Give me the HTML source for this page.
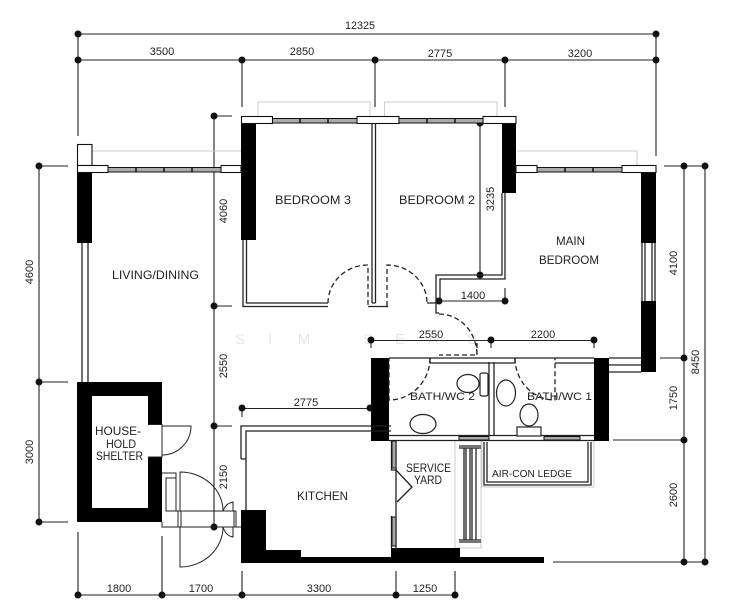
<!DOCTYPE html>
<html><head><meta charset="utf-8"><style>
html,body{margin:0;padding:0;background:#fff}
svg{display:block}
text{font-family:"Liberation Sans",sans-serif;fill:#222}
.d{font-size:11px;text-anchor:middle}
.r{font-size:12px}
.w{fill:#e6e6e6;font-size:15px;text-anchor:middle}
</style></head><body>
<svg width="737" height="600" viewBox="0 0 737 600" xmlns="http://www.w3.org/2000/svg">
<rect width="737" height="600" fill="#fff"/>
<!-- watermark -->
<text class="w" x="240" y="344">S</text><text class="w" x="270" y="344">I</text><text class="w" x="304" y="344">M</text><text class="w" x="368" y="344">S</text><text class="w" x="400" y="344">E</text><text class="w" x="433" y="344">A</text><text class="w" x="472" y="344">S</text>
<!-- dimension lines -->
<g stroke="#222" stroke-width="1.1" fill="none">
<path d="M78 34H656M78 60H656M78 34V136M242 60V107M375 60V107M505 60V107M656 34V156"/>
<path d="M39 166V522M39 166H68M39 382H68M39 522H68"/>
<path d="M214 116V527M214 116H232M214 306H232M214 426H232"/>
<path d="M684 166V562M705 166V562M664 166H705M660 358H684M613 440H684M553 562H705"/>
<path d="M480 123V275M439 301H505M505 288V301"/>
<path d="M371 340.500H594M491 340V348M594 340V348M371 340V348"/>
<path d="M242 408.500H370M242 408V417"/>
<path d="M78 595H455M78 532V595M162 536V595M242 571V595M396 571V595M455 571V595"/>
</g>
<g fill="#111">
<circle cx="78" cy="34" r="3.500"/><circle cx="656" cy="34" r="3.500"/>
<circle cx="78" cy="60" r="3.500"/><circle cx="242" cy="60" r="3.500"/><circle cx="375" cy="60" r="3.500"/><circle cx="505" cy="60" r="3.500"/><circle cx="656" cy="60" r="3.500"/>
<circle cx="39" cy="166" r="3.500"/><circle cx="39" cy="382" r="3.500"/><circle cx="39" cy="522" r="3.500"/>
<circle cx="214" cy="116" r="3.500"/><circle cx="214" cy="306" r="3.500"/><circle cx="214" cy="426" r="3.500"/><circle cx="214" cy="527" r="3.500"/>
<circle cx="684" cy="166" r="3.500"/><circle cx="705" cy="166" r="3.500"/><circle cx="684" cy="358" r="3.500"/><circle cx="684" cy="440" r="3.500"/><circle cx="684" cy="562" r="3.500"/><circle cx="705" cy="562" r="3.500"/>
<circle cx="480" cy="123" r="3.500"/><circle cx="480" cy="275" r="3.500"/><circle cx="439" cy="301" r="3.500"/><circle cx="505" cy="301" r="3.500"/>
<circle cx="371" cy="340" r="3.500"/><circle cx="491" cy="340" r="3.500"/><circle cx="594" cy="340" r="3.500"/>
<circle cx="242" cy="408" r="3.500"/><circle cx="370" cy="408" r="3.500"/>
<circle cx="78" cy="595" r="3.500"/><circle cx="162" cy="595" r="3.500"/><circle cx="242" cy="595" r="3.500"/><circle cx="396" cy="595" r="3.500"/><circle cx="455" cy="595" r="3.500"/>
</g>
<!-- gray outlines -->
<g stroke="#ccc" stroke-width="1" fill="none">
<path d="M258 116V102H370V116M384.500 116V102H497V116"/>
<path d="M92 151H241M517 151H637V165"/>
<path d="M455 440V548H481V440M482 441V487H594V441"/>
</g>
<!-- black walls -->
<g fill="#000">
<rect x="77" y="172" width="15" height="71"/>
<rect x="241" y="123" width="15" height="117"/>
<rect x="502" y="123" width="14" height="70"/>
<rect x="641" y="172" width="15" height="71"/>
<rect x="641" y="301" width="15" height="71"/>
<rect x="371" y="358" width="18" height="83"/>
<rect x="594" y="358" width="15" height="83"/>
<path fill-rule="evenodd" d="M77 382H162V522H77ZM92 396V508H148V396Z"/>
<path d="M241 510H266V550H301V557H544V563H241Z"/>
<path d="M391 548H460V558H391Z"/>
</g>
<!-- shelter door opening -->
<rect x="148" y="424" width="14" height="33" fill="#fff"/>
<g stroke="#222" stroke-width="1" fill="none">
<path d="M148 424.500H162V457H148M162 424V457"/>
<path d="M162 426H191A29 29 0 0 1 162 455"/>
<path d="M162 473H176V511H166V478H176"/>
<path d="M166 511H236M162 522V527H241"/>
<path d="M180 511V472A43 39 0 0 1 223 511"/>
<path d="M180 527V567A43 40 0 0 0 223 527"/>
<path d="M223 511Q226 503 233 502V511M223 527Q226 536 233 537V527"/>
<path d="M178 511V527M181 511V527M234 511V527M236 511V527"/>
</g>
<!-- windows top -->
<g stroke="#111" stroke-width="1.1" fill="#fff">
<rect x="77.500" y="144.500" width="14.500" height="21"/>
<rect x="77.500" y="165.500" width="30.500" height="7"/>
<rect x="221" y="165.500" width="20" height="7"/>
<rect x="241.500" y="116.500" width="31" height="7"/>
<rect x="357" y="116.500" width="42" height="7"/>
<rect x="483" y="116.500" width="33" height="7"/>
<rect x="516" y="165.500" width="21" height="7"/>
<rect x="622" y="165.500" width="34" height="7"/>
</g>
<g stroke="#111" fill="#aaa" stroke-width="1">
<rect x="108" y="167.500" width="113" height="4.500"/>
<rect x="272.500" y="118.500" width="84.500" height="4.500"/>
<rect x="399" y="118.500" width="84" height="4.500"/>
<rect x="537" y="167.500" width="85" height="4.500"/>
</g>
<path d="M136 167V172M164 167V172M192 167V172M300 118V123M328 118V123M427 118V123M455 118V123M565 167V172M593 167V172" stroke="#111" stroke-width="1.500"/>
<!-- thin walls -->
<g stroke="#222" stroke-width="1.300" fill="none">
<path d="M82 243V382M88 243V382"/>
<path d="M243 240V306.500H328M246.500 240V303H328"/>
<path d="M372 123V303M375.500 123V303M368 306.500H388M372 303H375.500"/>
<path d="M502 193V275H436V303H427M505 193V279H440V303"/>
<path d="M436 303V313H439"/>
<path d="M642 243V301M645 243V301M652 243V301M655 243V301"/>
<path d="M609 358H641M609 365H641M609 372H641"/>
<path d="M389 358H594"/>
<path d="M430 358V363H515V358"/>
<path d="M555 363H594"/>
<path d="M489 362V436M494 362V436"/>
<path d="M389 435.500H594M389 440.500H594"/>
<path d="M391.500 441V470H396M396 441V550M391.500 516V548"/>
<path d="M396 470L412 487L397 502"/>
<path d="M241 459V426H391M246 510V431H391M241 459H246"/>
<path d="M484 442V485H591V442M487 442V482H588V442"/>
<path d="M459 446H481M459 448H481M459 540H481M459 542H481M464 448V540M470 448V540M476 448V540M466 448V540M472 448V540"/>
</g>
<g stroke="#111" fill="#aaa" stroke-width="1">
<rect x="459" y="436.500" width="30" height="3.500"/>
<rect x="544" y="436.500" width="36" height="3.500"/>
<rect x="392" y="441" width="4" height="27"/>
<rect x="392" y="517" width="4" height="29"/>
</g>
<!-- doors dashed -->
<g stroke="#222" stroke-width="1.300" fill="none" stroke-dasharray="5 3">
<path d="M328 303A40 38 0 0 1 368 265V306"/>
<path d="M387 306V265A40 38 0 0 1 427 303"/>
<path d="M439 314A38 41 0 0 1 477 355H439M477 343V355"/>
<path d="M430 358A41 42 0 0 1 389 400V358"/>
<path d="M515 358A40 42 0 0 0 555 400V358"/>
</g>
<!-- fixtures -->
<g stroke="#222" stroke-width="1.200" fill="#fff">
<ellipse cx="468" cy="383.500" rx="11" ry="9"/>
<rect x="480" y="373" width="8" height="23" rx="2"/>
<ellipse cx="423" cy="424" rx="13" ry="9.500"/>
<ellipse cx="506" cy="393" rx="9.500" ry="13"/>
<ellipse cx="529" cy="415" rx="9" ry="11"/>
<rect x="517" y="427" width="24" height="9"/>
</g>
<!-- dimension text -->
<text class="d" x="360" y="29" textLength="30" lengthAdjust="spacingAndGlyphs">12325</text>
<text class="d" x="162" y="55">3500</text><text class="d" x="302" y="55">2850</text><text class="d" x="440" y="57">2775</text><text class="d" x="580" y="57">3200</text>
<text class="d" x="473" y="299">1400</text><text class="d" x="431" y="338">2550</text><text class="d" x="543" y="338">2200</text><text class="d" x="306" y="406">2775</text>
<text class="d" x="119" y="592">1800</text><text class="d" x="201" y="592">1700</text><text class="d" x="319" y="592">3300</text><text class="d" x="425" y="592">1250</text>
<g>
<text class="d" transform="translate(33 272) rotate(-90)">4600</text>
<text class="d" transform="translate(33 452) rotate(-90)">3000</text>
<text class="d" transform="translate(227 211) rotate(-90)">4060</text>
<text class="d" transform="translate(227 366) rotate(-90)">2550</text>
<text class="d" transform="translate(227 477) rotate(-90)">2150</text>
<text class="d" transform="translate(494 199) rotate(-90)">3235</text>
<text class="d" transform="translate(677 263) rotate(-90)">4100</text>
<text class="d" transform="translate(677 398) rotate(-90)">1750</text>
<text class="d" transform="translate(677 495) rotate(-90)">2600</text>
<text class="d" transform="translate(699 362) rotate(-90)">8450</text>
</g>
<!-- room labels -->
<text class="r" x="112" y="279" textLength="87" lengthAdjust="spacingAndGlyphs">LIVING/DINING</text>
<text class="r" x="275" y="204" textLength="76" lengthAdjust="spacingAndGlyphs">BEDROOM  3</text>
<text class="r" x="399" y="204" textLength="76" lengthAdjust="spacingAndGlyphs">BEDROOM  2</text>
<text class="r" x="556" y="245" textLength="29" lengthAdjust="spacingAndGlyphs">MAIN</text>
<text class="r" x="539" y="264" textLength="60" lengthAdjust="spacingAndGlyphs">BEDROOM</text>
<text class="r" x="297" y="500" textLength="51" lengthAdjust="spacingAndGlyphs">KITCHEN</text>
<text class="r" x="95" y="435" textLength="46" lengthAdjust="spacingAndGlyphs">HOUSE-</text>
<text class="r" x="106" y="448" textLength="30" lengthAdjust="spacingAndGlyphs">HOLD</text>
<text class="r" x="96" y="460" textLength="47" lengthAdjust="spacingAndGlyphs">SHELTER</text>
<text class="r" x="410" y="400" textLength="65" lengthAdjust="spacingAndGlyphs" style="font-size:11px">BATH/WC  2</text>
<text class="r" x="527" y="400" textLength="65" lengthAdjust="spacingAndGlyphs" style="font-size:11px">BATH/WC  1</text>
<text class="r" x="406" y="472" textLength="45" lengthAdjust="spacingAndGlyphs">SERVICE</text>
<text class="r" x="414" y="484" textLength="28" lengthAdjust="spacingAndGlyphs">YARD</text>
<text class="r" x="492" y="477" textLength="80" lengthAdjust="spacingAndGlyphs" style="font-size:10px">AIR-CON  LEDGE</text>
</svg>
</body></html>
